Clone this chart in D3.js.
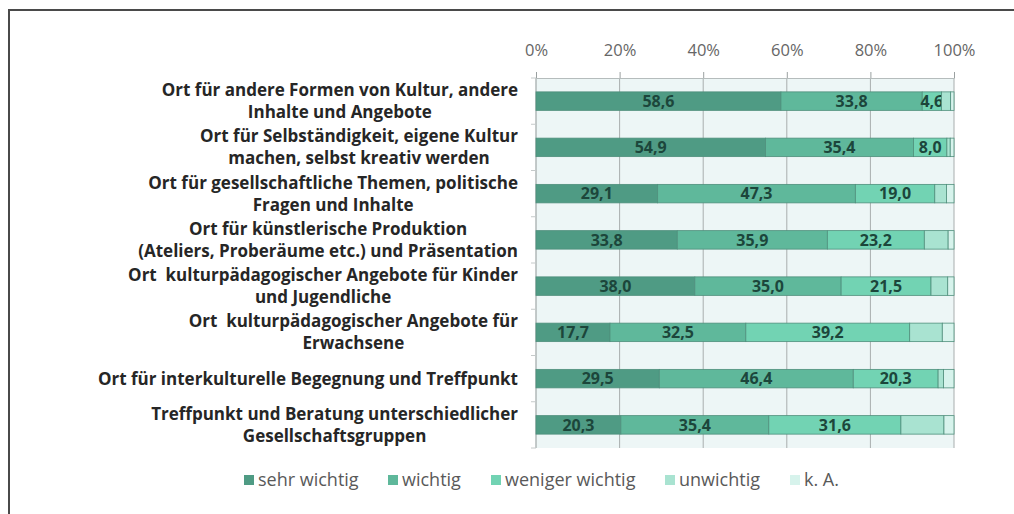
<!DOCTYPE html>
<html>
<head>
<meta charset="utf-8">
<script src="https://cdn.jsdelivr.net/npm/d3@7"></script>
<style>
  body { margin: 0; background: #fff; }
  svg { display: block; }
</style>
</head>
<body>
<div id="chart"></div>
<script>
// categories, each one already split into its lines
var categories = [
  ['Ort für andere Formen von Kultur, andere', 'Inhalte und Angebote'],
  ['Ort für Selbständigkeit, eigene Kultur', 'machen, selbst kreativ werden'],
  ['Ort für gesellschaftliche Themen, politische', 'Fragen und Inhalte'],
  ['Ort für künstlerische Produktion', '(Ateliers, Proberäume etc.) und Präsentation'],
  ['Ort  kulturpädagogischer Angebote für Kinder', 'und Jugendliche'],
  ['Ort  kulturpädagogischer Angebote für', 'Erwachsene'],
  ['Ort für interkulturelle Begegnung und Treffpunkt'],
  ['Treffpunkt und Beratung unterschiedlicher', 'Gesellschaftsgruppen']
];
var seriesNames = ['sehr wichtig', 'wichtig', 'weniger wichtig', 'unwichtig', 'k. A.'];
var sehrWichtig    = [58.6, 54.9, 29.1, 33.8, 38.0, 17.7, 29.5, 20.3];
var wichtig        = [33.8, 35.4, 47.3, 35.9, 35.0, 32.5, 46.4, 35.4];
var wenigerWichtig = [4.6, 8.0, 19.0, 23.2, 21.5, 39.2, 20.3, 31.6];
var unwichtig      = [2.2, 0.8, 2.8, 5.7, 4.0, 7.8, 1.3, 10.3];
var keineAngabe    = [0.8, 0.9, 1.8, 1.4, 1.5, 2.8, 2.5, 2.4];
var xTicks = [0, 20, 40, 60, 80, 100];

var colors = ['#4f9b84', '#5fb89b', '#72d3b3', '#a9e3d1', '#d7f3ec'];
var font = '"Open Sans", Lato, sans-serif';

var W = 1014, H = 514;
var svg = d3.select('#chart').append('svg')
  .attr('width', W)
  .attr('height', H);

// frame of the picture
svg.append('path')
  .attr('d', 'M9,514 L9,10 L1014,10')
  .attr('fill', 'none')
  .attr('stroke', '#4a4a4a')
  .attr('stroke-width', 2);

var plot = { left: 536, right: 954, top: 78, bottom: 448 };

var x = d3.scaleLinear().domain([0, 100]).range([plot.left, plot.right]);
var y = d3.scaleBand()
  .domain(d3.range(categories.length))
  .range([plot.top, plot.bottom])
  .paddingInner(0.6)
  .paddingOuter(0.3);

// build rows for the stack
var rows = categories.map((c, i) => ({
  i: i,
  s0: sehrWichtig[i], s1: wichtig[i], s2: wenigerWichtig[i], s3: unwichtig[i], s4: keineAngabe[i]
}));
var stack = d3.stack().keys(['s0', 's1', 's2', 's3', 's4']);
var layers = stack(rows);

// plot background
svg.append('rect')
  .attr('x', plot.left)
  .attr('y', plot.top)
  .attr('width', plot.right - plot.left)
  .attr('height', plot.bottom - plot.top)
  .attr('fill', '#edf6f6');

// vertical grid lines
svg.append('g')
  .selectAll('line')
  .data(xTicks)
  .join('line')
  .attr('x1', d => x(d)).attr('x2', d => x(d))
  .attr('y1', plot.top).attr('y2', plot.bottom)
  .attr('stroke', '#a8aeae')
  .attr('stroke-width', 1);

// top axis
var xAxis = d3.axisTop(x)
  .tickValues(xTicks)
  .tickFormat(d => d + '%')
  .tickSize(6)
  .tickPadding(16);
var gx = svg.append('g')
  .attr('transform', 'translate(0,' + plot.top + ')')
  .call(xAxis);
gx.select('.domain').attr('stroke', '#b5bcbc');
gx.selectAll('.tick line').attr('stroke', '#9aa0a0');
gx.selectAll('.tick text')
  .attr('fill', '#666')
  .style('font-family', font)
  .style('font-size', '16.5px');

// left axis line with small ticks between the bands
svg.append('line')
  .attr('x1', plot.left).attr('x2', plot.left)
  .attr('y1', plot.top).attr('y2', plot.bottom)
  .attr('stroke', '#b5bcbc');
svg.append('g')
  .selectAll('line')
  .data(d3.range(categories.length + 1))
  .join('line')
  .attr('x1', plot.left - 5).attr('x2', plot.left)
  .attr('y1', d => plot.top + d * (plot.bottom - plot.top) / categories.length)
  .attr('y2', d => plot.top + d * (plot.bottom - plot.top) / categories.length)
  .attr('stroke', '#c5caca');

// bars
var layerG = svg.append('g')
  .selectAll('g')
  .data(layers)
  .join('g')
  .attr('fill', (d, k) => colors[k]);

layerG.selectAll('rect')
  .data(d => d)
  .join('rect')
  .attr('x', d => x(d[0]))
  .attr('y', d => y(d.data.i))
  .attr('width', d => x(d[1]) - x(d[0]))
  .attr('height', y.bandwidth())
  .attr('stroke', '#4f8f7c')
  .attr('stroke-width', 0.8);

// value labels, only for the first three series
layerG.filter((d, k) => k < 3)
  .selectAll('text')
  .data(d => d)
  .join('text')
  .attr('x', d => (x(d[0]) + x(d[1])) / 2)
  .attr('y', d => y(d.data.i) + y.bandwidth() / 2)
  .attr('dy', '0.36em')
  .attr('text-anchor', 'middle')
  .attr('fill', '#1c463b')
  .style('font-family', font)
  .style('font-weight', 'bold')
  .style('font-size', '16px')
  .text(d => d3.format('.1f')(d[1] - d[0]).replace('.', ','));

// category labels: lines centred on each other, block right aligned
var labelRight = 518;
var lineH = 22;
var catG = svg.append('g')
  .selectAll('g')
  .data(categories)
  .join('g');

catG.each(function(lines, i) {
  var g = d3.select(this);
  var cy = y(i) + y.bandwidth() / 2;
  var texts = g.selectAll('text')
    .data(lines)
    .join('text')
    .attr('y', (d, j) => cy + (j - (lines.length - 1) / 2) * lineH)
    .attr('dy', '0.36em')
    .attr('text-anchor', 'middle')
    .attr('fill', '#262626')
    .style('font-family', font)
    .style('font-weight', 'bold')
    .style('font-size', '17px')
    .style('white-space', 'pre')
    .text(d => d);
  var maxW = d3.max(texts.nodes(), n => n.getComputedTextLength());
  texts.attr('x', labelRight - maxW / 2);
});

// legend
var legendX = [244, 388, 491, 665, 790];
var legend = svg.append('g')
  .selectAll('g')
  .data(seriesNames)
  .join('g')
  .attr('transform', (d, k) => 'translate(' + legendX[k] + ',480)');
legend.append('rect')
  .attr('x', 0).attr('y', -5)
  .attr('width', 10).attr('height', 10)
  .attr('fill', (d, k) => colors[k]);
legend.append('text')
  .attr('x', 14)
  .attr('dy', '0.36em')
  .attr('fill', '#595959')
  .style('font-family', font)
  .style('font-size', '18px')
  .text(d => d);
</script>
</body>
</html>
